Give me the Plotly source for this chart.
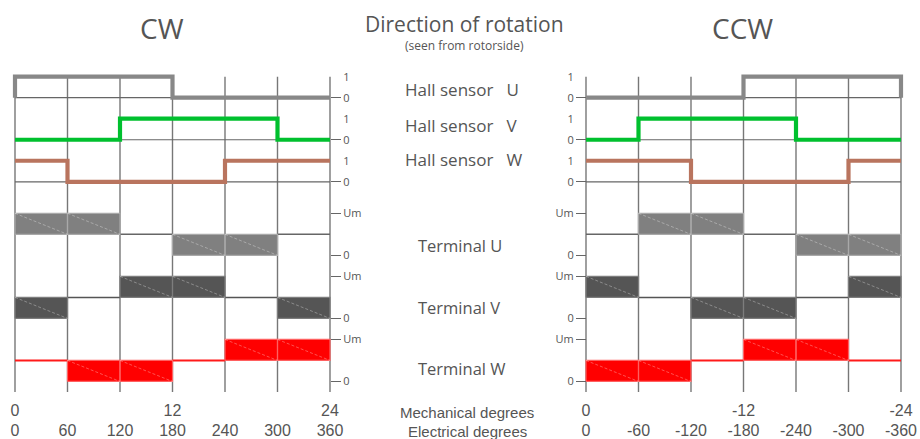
import plotly.graph_objects as go

# ---------------- data ----------------
elec_cw = [0, 60, 120, 180, 240, 300, 360]
elec_cw_labels = ["0", "60", "120", "180", "240", "300", "360"]
elec_ccw = [0, -60, -120, -180, -240, -300, -360]
elec_ccw_labels = ["0", "-60", "-120", "-180", "-240", "-300", "-360"]
mech_cw = [0, 180, 360]
mech_cw_labels = ["0", "12", "24"]
mech_ccw = [0, -180, -360]
mech_ccw_labels = ["0", "-12", "-24"]

phases = ["U", "V", "W"]

# Hall sensor state per 60° electrical sector
hall_cw_u = [1, 1, 1, 0, 0, 0]
hall_cw_v = [0, 0, 1, 1, 1, 0]
hall_cw_w = [1, 0, 0, 0, 1, 1]
hall_ccw_u = [0, 0, 0, 1, 1, 1]
hall_ccw_v = [0, 1, 1, 1, 0, 0]
hall_ccw_w = [1, 1, 0, 0, 0, 1]
# level of the neighbouring period drawn at the cycle edge (None = no edge)
hall_cw_lead = {"U": 0, "V": None, "W": None}
hall_ccw_tail = {"U": 0, "V": None, "W": None}

# terminal voltage per 60° sector: "H" = Um, "L" = 0, "F" = floating
term_cw_u = ["H", "H", "F", "L", "L", "F"]
term_cw_v = ["L", "F", "H", "H", "F", "L"]
term_cw_w = ["F", "L", "L", "F", "H", "H"]
term_ccw_u = ["F", "H", "H", "F", "L", "L"]
term_ccw_v = ["H", "F", "L", "L", "F", "H"]
term_ccw_w = ["L", "L", "F", "H", "H", "F"]

# ---------------- styles / layout ----------------
W, H = 920, 439
TXT = "#555555"
HALL_COLORS = {"U": "#888888", "V": "#00c02e", "W": "#b9745e"}
TERM_FILL = {"U": "#808080", "V": "#555555", "W": "#ff0000"}
TERM_EDGE = {"U": "#a9a9a9", "V": "#7d7d7d", "W": "#ff6060"}
FLOAT_COLOR = {"U": "#666666", "V": "#555555", "W": "#ff1a1a"}
FLOAT_W = {"U": 1.5, "V": 1.5, "W": 2}

HALL_BASE = {"U": 0, "V": -2, "W": -4}
TERM_ZERO = {"U": -7.5, "V": -10.5, "W": -13.5}
GRID_TOP, GRID_BOT = 1, -14

PXDEG = 315 / 360
PAD = 8
Y_RANGE = [-15, 2]
Y0_PX, UNIT = 97.7, 21.02


def px_x(p):
    return p / W


def px_y(p):
    return 1 - p / H


ytop_px = Y0_PX - Y_RANGE[1] * UNIT
ybot_px = Y0_PX - Y_RANGE[0] * UNIT
Y_DOMAIN = [px_y(ybot_px), px_y(ytop_px)]

LEFT0, RIGHT0 = 15, 586
XD_LEFT = [px_x(LEFT0 - PAD * PXDEG), px_x(LEFT0 + (360 + PAD) * PXDEG)]
XD_RIGHT = [px_x(RIGHT0 - PAD * PXDEG), px_x(RIGHT0 + (360 + PAD) * PXDEG)]

fig = go.Figure()


def add_panel(xa, ya, edges, halls, lead, tail, terms):
    common = dict(xaxis=xa, yaxis=ya, showlegend=False, hoverinfo="skip", mode="lines")
    # vertical grid lines
    gx, gy = [], []
    for e in edges:
        gx += [e, e, None]
        gy += [GRID_TOP, GRID_BOT, None]
    fig.add_trace(go.Scatter(x=gx, y=gy, line=dict(color="#777777", width=1.4), **common))
    # hall baselines
    bx, by = [], []
    for ph in phases:
        b = HALL_BASE[ph]
        bx += [edges[0], edges[-1], None]
        by += [b, b, None]
    fig.add_trace(go.Scatter(x=bx, y=by, line=dict(color="#666666", width=1.2), **common))
    # terminals
    for ph in phases:
        z = TERM_ZERO[ph]
        rx, ry, dx, dy, fx, fy = [], [], [], [], [], []
        for i, s in enumerate(terms[ph]):
            x0, x1 = edges[i], edges[i + 1]
            if s == "F":
                fx += [x0, x1, None]
                fy += [z + 1, z + 1, None]
                continue
            lo, hi = (z + 1, z + 2) if s == "H" else (z, z + 1)
            rx += [x0, x1, x1, x0, x0, None]
            ry += [lo, lo, hi, hi, lo, None]
            dx += [x0, x1, None]
            dy += [hi, lo, None]
        fig.add_trace(go.Scatter(x=fx, y=fy, line=dict(color=FLOAT_COLOR[ph], width=FLOAT_W[ph]), **common))
        fig.add_trace(go.Scatter(x=rx, y=ry, fill="toself", fillcolor=TERM_FILL[ph],
                                 line=dict(color=TERM_EDGE[ph], width=1.2), **common))
        fig.add_trace(go.Scatter(x=dx, y=dy, line=dict(color="rgba(255,255,255,0.4)", width=0.8, dash="3px,2px"),
                                 **common))
    # hall signals
    for ph in phases:
        b = HALL_BASE[ph]
        xs, ys = [], []
        if lead.get(ph) is not None:
            xs.append(edges[0]); ys.append(b + lead[ph])
        for i, s in enumerate(halls[ph]):
            xs += [edges[i], edges[i + 1]]
            ys += [b + s, b + s]
        if tail.get(ph) is not None:
            xs.append(edges[-1]); ys.append(b + tail[ph])
        fig.add_trace(go.Scatter(x=xs, y=ys, line=dict(color=HALL_COLORS[ph], width=4.2), **common))


add_panel("x", "y", elec_cw, {"U": hall_cw_u, "V": hall_cw_v, "W": hall_cw_w},
          hall_cw_lead, {}, {"U": term_cw_u, "V": term_cw_v, "W": term_cw_w})
add_panel("x2", "y2", elec_ccw, {"U": hall_ccw_u, "V": hall_ccw_v, "W": hall_ccw_w},
          {}, hall_ccw_tail, {"U": term_ccw_u, "V": term_ccw_v, "W": term_ccw_w})

# dummy traces so overlay axes get drawn
for xa, ya in [("x3", "y"), ("x4", "y2"), ("x", "y3"), ("x2", "y4")]:
    fig.add_trace(go.Scatter(x=[None], y=[None], xaxis=xa, yaxis=ya, showlegend=False, hoverinfo="skip"))

# ---------- axes ----------
lvl_vals, lvl_text, one_vals = [], [], []
for ph in phases:
    lvl_vals.append(HALL_BASE[ph]); lvl_text.append("0")
    one_vals.append(HALL_BASE[ph] + 1)
for ph in phases:
    lvl_vals += [TERM_ZERO[ph] + 2, TERM_ZERO[ph]]
    lvl_text += ["Um", "0"]

tick_font = dict(family="Open Sans", size=11, color=TXT)
num_font = dict(family="Liberation Sans", size=16, color=TXT)
P_ELEC = px_y(419)
P_MECH = px_y(399)

xbase = dict(showgrid=False, zeroline=False, showline=False, ticks="", tickfont=num_font, automargin=False)
ybase = dict(domain=Y_DOMAIN, range=Y_RANGE, showgrid=False, zeroline=False, showline=False,
             anchor="free", ticks="outside", ticklen=10, tickwidth=1.4, tickfont=tick_font, automargin=False)

fig.update_layout(
    width=W, height=H, margin=dict(l=0, r=0, t=0, b=0, pad=0, autoexpand=False),
    paper_bgcolor="white", plot_bgcolor="rgba(0,0,0,0)",
    xaxis=dict(domain=XD_LEFT, range=[-PAD, 360 + PAD], anchor="free", position=P_ELEC,
               tickvals=elec_cw, ticktext=elec_cw_labels, **xbase),
    xaxis2=dict(domain=XD_RIGHT, range=[PAD, -360 - PAD], anchor="free", position=P_ELEC,
                tickvals=elec_ccw, ticktext=elec_ccw_labels, **xbase),
    xaxis3=dict(overlaying="x", range=[-PAD, 360 + PAD], anchor="free", position=P_MECH,
                tickvals=mech_cw, ticktext=mech_cw_labels, **xbase),
    xaxis4=dict(overlaying="x2", range=[PAD, -360 - PAD], anchor="free", position=P_MECH,
                tickvals=mech_ccw, ticktext=mech_ccw_labels, **xbase),
    yaxis=dict(position=px_x(LEFT0 + 360 * PXDEG), side="right", tickcolor="#666666",
               tickvals=lvl_vals, ticktext=lvl_text, **ybase),
    yaxis2=dict(position=px_x(RIGHT0), side="left", tickcolor="#666666",
                tickvals=lvl_vals, ticktext=lvl_text, **ybase),
    yaxis3=dict(overlaying="y", position=px_x(LEFT0 + 360 * PXDEG), side="right",
                tickcolor="rgba(0,0,0,0)", tickvals=one_vals, ticktext=["1"] * 3, **ybase),
    yaxis4=dict(overlaying="y2", position=px_x(RIGHT0), side="left",
                tickcolor="rgba(0,0,0,0)", tickvals=one_vals, ticktext=["1"] * 3, **ybase),
)

# ---------- text ----------
ann = []
ann.append(dict(text="CW", x=px_x(162), y=px_y(28), font=dict(family="Open Sans", size=28, color=TXT)))
ann.append(dict(text="CCW", x=px_x(742), y=px_y(28), font=dict(family="Open Sans", size=28, color=TXT)))
ann.append(dict(text="Direction of rotation", x=px_x(464), y=px_y(24),
                font=dict(family="Open Sans", size=21, color=TXT)))
ann.append(dict(text="(seen from rotorside)", x=px_x(464), y=px_y(45),
                font=dict(family="Open Sans", size=12, color=TXT)))
hall_lbl_y = {"U": 89, "V": 125, "W": 159}
term_lbl_y = {"U": 245, "V": 307, "W": 368}
for ph in phases:
    ann.append(dict(text="Hall sensor\u00a0\u00a0 " + ph, x=px_x(403), y=px_y(hall_lbl_y[ph]), xanchor="left",
                    font=dict(family="Open Sans", size=17, color=TXT)))
    ann.append(dict(text="Terminal " + ph, x=px_x(416), y=px_y(term_lbl_y[ph]), xanchor="left",
                    font=dict(family="Open Sans", size=16.5, color=TXT)))
ann.append(dict(text="Mechanical degrees", x=px_x(467), y=px_y(412),
                font=dict(family="Liberation Sans", size=15, color=TXT)))
ann.append(dict(text="Electrical degrees", x=px_x(467), y=px_y(431),
                font=dict(family="Liberation Sans", size=15, color=TXT)))
for a in ann:
    a.setdefault("xanchor", "center")
    a.update(xref="paper", yref="paper", yanchor="middle", showarrow=False)
fig.update_layout(annotations=ann)

fig.write_html("out.html", config={"displayModeBar": False},
               post_script="document.body.style.margin='0';document.body.style.overflow='hidden';")
